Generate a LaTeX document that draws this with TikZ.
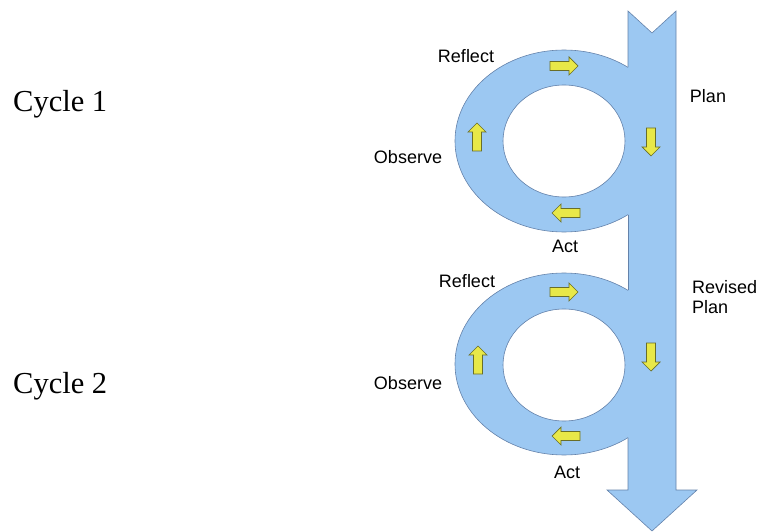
\documentclass[tikz,border=0pt]{standalone}
\usepackage{fontspec}
\setmainfont{Liberation Serif}
\newfontfamily\labelfont{Liberation Sans}
\definecolor{loopblue}{RGB}{156,200,242}
\definecolor{loopedge}{RGB}{100,130,170}
\definecolor{arrowfill}{RGB}{232,232,72}
\definecolor{arrowedge}{RGB}{105,110,40}
\tikzset{
  lbl/.style={font=\labelfont\fontsize{18}{20}\selectfont, inner sep=0pt, align=left},
  cyc/.style={font=\fontsize{30.5}{34}\selectfont, inner sep=0pt},
  edge/.style={draw=loopedge, line width=0.6pt},
  yarrow/.style={fill=arrowfill, draw=arrowedge, line width=0.7pt, line join=miter},
  blockarrow/.pic={
    \path[yarrow] (-14,-4.5) -- (5,-4.5) -- (5,-9) -- (14,0) -- (5,9) -- (5,4.5) -- (-14,4.5) -- cycle;
  }
}
\begin{document}
\begin{tikzpicture}[x=1pt, y=-1pt]
\useasboundingbox (0,0) rectangle (764,532);

% blue body: two rings and the main shaft
\fill[loopblue, even odd rule]
  (564,141) ellipse [x radius=109pt, y radius=91pt]
  (564,141) ellipse [x radius=61pt, y radius=56pt];
\fill[loopblue, even odd rule]
  (564,364) ellipse [x radius=109pt, y radius=91pt]
  (564,365) ellipse [x radius=61pt, y radius=56pt];
\fill[loopblue]
  (628,11) -- (652,33) -- (676,11) -- (676,490) -- (697,490) -- (652,531)
  -- (607,490) -- (628,490) -- cycle;

% outlines
\begin{scope}
  \clip (0,0) rectangle (628,532);
  \draw[edge] (564,141) ellipse [x radius=109pt, y radius=91pt];
  \draw[edge] (564,364) ellipse [x radius=109pt, y radius=91pt];
\end{scope}
\draw[edge] (564,141) ellipse [x radius=61pt, y radius=56pt];
\draw[edge] (564,365) ellipse [x radius=61pt, y radius=56pt];
\draw[edge, line join=miter]
  (628,67) -- (628,11) -- (652,33) -- (676,11) -- (676,490) -- (697,490)
  -- (652,531) -- (607,490) -- (628,490) -- (628,438);
\draw[edge] (628,290) -- (628,215);

% direction arrows, first cycle
\pic at (564,66) {blockarrow};
\pic[rotate=-90] at (651,142) {blockarrow};
\pic[rotate=180] at (566,213) {blockarrow};
\pic[rotate=90] at (477,137) {blockarrow};
% direction arrows, second cycle
\pic at (564,292) {blockarrow};
\pic[rotate=-90] at (651,357) {blockarrow};
\pic[rotate=180] at (566,436) {blockarrow};
\pic[rotate=90] at (478,360) {blockarrow};

% labels
\node[lbl] (reflect1) at (466,56) {Reflect};
\node[lbl] (plan) at (708,96) {Plan};
\node[lbl] (observe1) at (408,157) {Observe};
\node[lbl] (act1) at (565,246) {Act};
\node[lbl] (reflect2) at (467,281) {Reflect};
\node[lbl, anchor=west] (revised) at (692,297) {Revised\\Plan};
\node[lbl] (observe2) at (408,383) {Observe};
\node[lbl] (act2) at (567,472) {Act};

\node[cyc, anchor=base west] (cycle1) at (13,112) {Cycle 1};
\node[cyc, anchor=base west] (cycle2) at (13,393) {Cycle 2};
\end{tikzpicture}
\end{document}
